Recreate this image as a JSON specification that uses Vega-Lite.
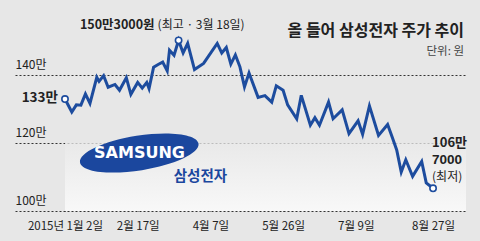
{
  "$schema": "https://vega.github.io/schema/vega-lite/v6.json",
  "width": 451,
  "height": 211,
  "autosize": {"type": "none"},
  "padding": {"left": 15, "top": 0, "right": 14, "bottom": 30},
  "background": "#e7e7e7",
  "config": {"view": {"stroke": null}},
  "title": {
    "text": "올 들어 삼성전자 주가 추이",
    "subtitle": "단위: 원",
    "anchor": "end",
    "orient": "top",
    "frame": "group",
    "offset": -57,
    "dx": -2,
    "font": "Noto Sans CJK KR",
    "fontSize": 16,
    "fontWeight": "bold",
    "color": "#222222",
    "subtitleFont": "Noto Sans CJK KR",
    "subtitleFontSize": 11.5,
    "subtitleColor": "#444444",
    "subtitlePadding": 7
  },
  "datasets": {
    "samsung": [
      {"d": 0, "price": 133.0}, {"d": 3, "price": 129.2}, {"d": 5, "price": 131.3}, {"d": 7, "price": 131.2},
      {"d": 9, "price": 134.5}, {"d": 11, "price": 131.7}, {"d": 14, "price": 139.4}, {"d": 15, "price": 138.2},
      {"d": 17, "price": 139.9}, {"d": 19, "price": 136.5}, {"d": 22, "price": 137.3}, {"d": 24, "price": 135.6},
      {"d": 27, "price": 139.3}, {"d": 29, "price": 134.4}, {"d": 32, "price": 137.9}, {"d": 34, "price": 136.2},
      {"d": 36, "price": 137.9}, {"d": 37, "price": 136.1}, {"d": 39, "price": 142.4}, {"d": 41, "price": 143.2},
      {"d": 43, "price": 143.9}, {"d": 45, "price": 141.3}, {"d": 46, "price": 147.4}, {"d": 48, "price": 145.9},
      {"d": 50, "price": 150.3}, {"d": 52, "price": 146.6}, {"d": 54, "price": 149.4}, {"d": 57, "price": 141.7},
      {"d": 61, "price": 143.5}, {"d": 67, "price": 149.4}, {"d": 69, "price": 146.6}, {"d": 71, "price": 148.2},
      {"d": 73, "price": 143.3}, {"d": 75, "price": 146.0}, {"d": 77, "price": 142.5}, {"d": 79, "price": 136.6},
      {"d": 81, "price": 140.7}, {"d": 85, "price": 133.5}, {"d": 88, "price": 134.0}, {"d": 91, "price": 132.1},
      {"d": 93, "price": 136.9}, {"d": 96, "price": 135.6}, {"d": 98, "price": 131.3}, {"d": 102, "price": 127.2},
      {"d": 104, "price": 134.1}, {"d": 108, "price": 125.3}, {"d": 110, "price": 127.5}, {"d": 112, "price": 125.3},
      {"d": 116, "price": 132.1}, {"d": 118, "price": 127.2}, {"d": 122, "price": 129.8}, {"d": 125, "price": 122.8},
      {"d": 129, "price": 126.6}, {"d": 131, "price": 122.6}, {"d": 134, "price": 131.0}, {"d": 138, "price": 122.3},
      {"d": 142, "price": 125.5}, {"d": 144, "price": 121.8}, {"d": 146, "price": 118.0}, {"d": 148, "price": 111.5},
      {"d": 150, "price": 115.1}, {"d": 153, "price": 110.2}, {"d": 157, "price": 114.6}, {"d": 159, "price": 108.3},
      {"d": 162, "price": 106.7}
    ],
    "one": [{}]
  },
  "layer": [
    {
      "data": {"name": "one"},
      "mark": {
        "type": "rect",
        "color": {
          "gradient": "linear",
          "x1": 0, "y1": 0, "x2": 0, "y2": 1,
          "stops": [{"offset": 0, "color": "#e9e9e9"}, {"offset": 1, "color": "#f8f8f8"}]
        }
      },
      "encoding": {
        "x": {"datum": 0, "type": "quantitative"},
        "x2": {"datum": 176.5},
        "y": {"datum": 120, "type": "quantitative"},
        "y2": {"datum": 100}
      }
    },
    {
      "data": {"name": "samsung"},
      "mark": {"type": "line", "color": "#1d4c9e", "strokeWidth": 3, "strokeJoin": "miter"},
      "encoding": {
        "x": {
          "field": "d",
          "type": "quantitative",
          "scale": {"domain": [-22, 176.5], "nice": false, "zero": false},
          "axis": {
            "title": null,
            "values": [0, 32, 64, 96, 128, 162],
            "labelExpr": "datum.value==0?'2015년 1월 2일':datum.value==32?'2월 17일':datum.value==64?'4월 7일':datum.value==96?'5월 26일':datum.value==128?'7월 9일':'8월 27일'",
            "grid": false,
            "domain": false,
            "ticks": true,
            "tickSize": -5,
            "tickColor": "#333333",
            "labelPadding": 14,
            "labelBaseline": "top",
            "labelFont": "Noto Sans CJK KR, sans-serif",
            "labelFontSize": 11.5,
            "labelColor": "#222222",
            "labelFlush": false,
            "labelOverlap": false
          }
        },
        "y": {
          "field": "price",
          "type": "quantitative",
          "scale": {"domain": [100, 162.2], "nice": false, "zero": false},
          "axis": {
            "title": null,
            "values": [100, 120, 140],
            "labelExpr": "datum.value+'만'",
            "grid": true,
            "gridDash": [2, 2],
            "gridColor": "#333333",
            "gridWidth": 1,
            "domain": false,
            "ticks": false,
            "tickSize": 0,
            "labelPadding": 0,
            "labelAlign": "left",
            "labelBaseline": "alphabetic",
            "labelOffset": -7,
            "labelFont": "Noto Sans CJK KR, sans-serif",
            "labelFontSize": 12,
            "labelColor": "#222222"
          }
        }
      }
    },
    {
      "data": {"name": "samsung"},
      "transform": [{"filter": "datum.d==0 || datum.d==50 || datum.d==162"}],
      "mark": {"type": "point", "filled": true, "fill": "#ffffff", "stroke": "#1d4c9e", "strokeWidth": 1.6, "size": 40, "opacity": 1},
      "encoding": {
        "x": {"field": "d", "type": "quantitative"},
        "y": {"field": "price", "type": "quantitative"}
      }
    },
    {
      "data": {"name": "one"},
      "mark": {"type": "text", "align": "right", "baseline": "middle", "dx": -7, "dy": -1, "font": "Noto Sans CJK KR, sans-serif", "fontSize": 13.5, "fontWeight": "bold", "color": "#222222"},
      "encoding": {
        "x": {"datum": 0, "type": "quantitative"},
        "y": {"datum": 133.0, "type": "quantitative"},
        "text": {"value": "133만"}
      }
    },
    {
      "data": {"name": "one"},
      "mark": {"type": "text", "align": "right", "baseline": "middle", "dx": -24, "dy": -15, "font": "Noto Sans CJK KR, sans-serif", "fontSize": 12.5, "fontWeight": "bold", "color": "#222222"},
      "encoding": {
        "x": {"datum": 50, "type": "quantitative"},
        "y": {"datum": 150.3, "type": "quantitative"},
        "text": {"value": "150만3000원"}
      }
    },
    {
      "data": {"name": "one"},
      "mark": {"type": "text", "align": "left", "baseline": "middle", "dx": -21, "dy": -15, "font": "Noto Sans CJK KR, sans-serif", "fontSize": 12, "color": "#222222"},
      "encoding": {
        "x": {"datum": 50, "type": "quantitative"},
        "y": {"datum": 150.3, "type": "quantitative"},
        "text": {"value": "(최고 · 3월 18일)"}
      }
    },
    {
      "data": {"name": "one"},
      "mark": {"type": "text", "align": "left", "baseline": "alphabetic", "dx": -1, "dy": -41.5, "font": "Noto Sans CJK KR, sans-serif", "fontSize": 13, "fontWeight": "bold", "color": "#222222"},
      "encoding": {
        "x": {"datum": 162, "type": "quantitative"},
        "y": {"datum": 106.7, "type": "quantitative"},
        "text": {"value": "106만"}
      }
    },
    {
      "data": {"name": "one"},
      "mark": {"type": "text", "align": "left", "baseline": "alphabetic", "dx": -1, "dy": -24.5, "font": "Liberation Sans, sans-serif", "fontSize": 13.5, "fontWeight": "bold", "color": "#222222"},
      "encoding": {
        "x": {"datum": 162, "type": "quantitative"},
        "y": {"datum": 106.7, "type": "quantitative"},
        "text": {"value": "7000"}
      }
    },
    {
      "data": {"name": "one"},
      "mark": {"type": "text", "align": "left", "baseline": "alphabetic", "dx": -1, "dy": -7.5, "font": "Noto Sans CJK KR, sans-serif", "fontSize": 12, "color": "#222222"},
      "encoding": {
        "x": {"datum": 162, "type": "quantitative"},
        "y": {"datum": 106.7, "type": "quantitative"},
        "text": {"value": "(최저)"}
      }
    },
    {
      "data": {"name": "one"},
      "mark": {"type": "point", "filled": true, "color": "#1b479e", "opacity": 1, "shape": "M -1 0 A 1 0.29 0 1 1 1 0 A 1 0.29 0 1 1 -1 0 Z", "size": 14400, "angle": -9},
      "encoding": {
        "x": {"datum": 32.7, "type": "quantitative"},
        "y": {"datum": 117.1, "type": "quantitative"}
      }
    },
    {
      "data": {"name": "one"},
      "mark": {"type": "text", "align": "center", "baseline": "middle", "font": "DejaVu Sans", "fontSize": 16, "fontWeight": "bold", "color": "#ffffff"},
      "encoding": {
        "x": {"datum": 32.8, "type": "quantitative"},
        "y": {"datum": 117.1, "type": "quantitative"},
        "text": {"value": "SAMSUNG"}
      }
    },
    {
      "data": {"name": "one"},
      "mark": {"type": "text", "align": "center", "baseline": "middle", "font": "Noto Sans CJK KR", "fontSize": 14.5, "fontWeight": "bold", "color": "#1b479e"},
      "encoding": {
        "x": {"datum": 59.6, "type": "quantitative"},
        "y": {"datum": 110.0, "type": "quantitative"},
        "text": {"value": "삼성전자"}
      }
    }
  ]
}
